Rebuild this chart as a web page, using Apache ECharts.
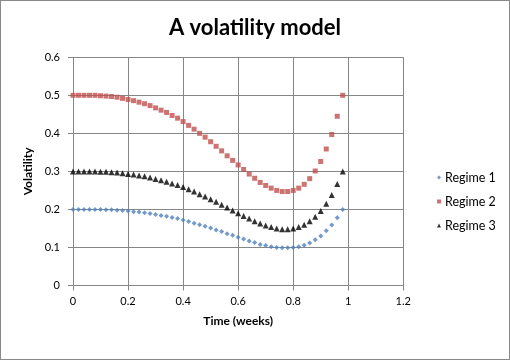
<!DOCTYPE html>
<html>
<head>
<meta charset="utf-8">
<script src="https://cdn.jsdelivr.net/npm/echarts@6/dist/echarts.min.js"></script>
<style>
  html, body { margin: 0; padding: 0; background: #fff; }
  #chart { width: 508px; height: 358px; border: 1px solid #888; }
</style>
</head>
<body>
<div id="chart"></div>
<script>
  // time in weeks
  const times = [0, 0.02, 0.04, 0.06, 0.08, 0.1, 0.12, 0.14, 0.16, 0.18,
    0.2, 0.22, 0.24, 0.26, 0.28, 0.3, 0.32, 0.34, 0.36, 0.38,
    0.4, 0.42, 0.44, 0.46, 0.48, 0.5, 0.52, 0.54, 0.56, 0.58,
    0.6, 0.62, 0.64, 0.66, 0.68, 0.7, 0.72, 0.74, 0.76, 0.78,
    0.8, 0.82, 0.84, 0.86, 0.88, 0.9, 0.92, 0.94, 0.96, 0.98];

  const regime1 = [0.200, 0.200, 0.200, 0.200, 0.200, 0.200, 0.199, 0.199, 0.198, 0.197,
    0.196, 0.194, 0.193, 0.191, 0.189, 0.187, 0.184, 0.182, 0.179, 0.176,
    0.172, 0.168, 0.164, 0.160, 0.156, 0.151, 0.146, 0.142, 0.136, 0.132,
    0.127, 0.122, 0.117, 0.113, 0.108, 0.105, 0.102, 0.100, 0.099, 0.099,
    0.100, 0.102, 0.106, 0.112, 0.120, 0.130, 0.144, 0.159, 0.178, 0.200];

  const regime2 = [0.500, 0.500, 0.500, 0.500, 0.500, 0.499, 0.498, 0.497, 0.495, 0.492,
    0.489, 0.486, 0.482, 0.478, 0.473, 0.467, 0.461, 0.455, 0.447, 0.440,
    0.431, 0.421, 0.411, 0.400, 0.390, 0.378, 0.366, 0.354, 0.341, 0.329,
    0.317, 0.305, 0.293, 0.282, 0.271, 0.263, 0.256, 0.250, 0.247, 0.247,
    0.250, 0.256, 0.266, 0.281, 0.301, 0.326, 0.359, 0.397, 0.445, 0.500];

  const regime3 = [0.300, 0.300, 0.300, 0.300, 0.300, 0.299, 0.299, 0.298, 0.297, 0.295,
    0.293, 0.292, 0.289, 0.287, 0.284, 0.280, 0.277, 0.273, 0.268, 0.264,
    0.259, 0.253, 0.247, 0.240, 0.234, 0.227, 0.220, 0.212, 0.205, 0.197,
    0.190, 0.183, 0.176, 0.169, 0.163, 0.158, 0.154, 0.150, 0.148, 0.148,
    0.150, 0.154, 0.160, 0.169, 0.181, 0.196, 0.215, 0.238, 0.267, 0.300];

  const seriesNames = ['Regime 1', 'Regime 2', 'Regime 3'];

  const font = 'Lato, "Open Sans", sans-serif';
  const gridColor = '#868686';

  function pairs(ys) {
    let out = [];
    for (let i = 0; i < times.length; i++) {
      out.push([times[i], ys[i]]);
    }
    return out;
  }

  const chart = echarts.init(document.getElementById('chart'), null, {renderer: 'canvas'});

  const options = {
    animation: false,
    color: ['#4F81BD', '#C0504D', '#000000'],
    title: {
      text: 'A volatility model',
      left: 'center',
      top: 11,
      textStyle: {fontFamily: font, fontSize: 22, fontWeight: 'bold', color: '#000'}
    },
    legend: {
      orient: 'vertical',
      left: 431,
      top: 165,
      itemGap: 11,
      itemWidth: 4,
      itemHeight: 4,
      data: [
        {name: seriesNames[0], icon: 'diamond'},
        {name: seriesNames[1], icon: 'rect'},
        {name: seriesNames[2], icon: 'triangle'}
      ],
      textStyle: {fontFamily: font, fontSize: 12.5, color: '#000', padding: [0, 0, 0, -1]}
    },
    grid: {
      left: 72,
      right: 105.7,
      top: 56.3,
      bottom: 73.5
    },
    xAxis: {
      type: 'value',
      min: 0,
      max: 1.2,
      interval: 0.2,
      name: 'Time (weeks)',
      nameLocation: 'middle',
      nameGap: 30,
      nameTextStyle: {fontFamily: font, fontSize: 12, fontWeight: 'bold', color: '#000'},
      axisLine: {show: true, lineStyle: {color: gridColor}},
      axisTick: {show: true, length: 5, lineStyle: {color: gridColor}},
      axisLabel: {fontFamily: font, fontSize: 11, color: '#000', margin: 10,
        formatter: v => String(Math.round(v * 10) / 10)},
      splitLine: {show: true, lineStyle: {color: gridColor}}
    },
    yAxis: {
      type: 'value',
      min: 0,
      max: 0.6,
      interval: 0.1,
      name: 'Volatility',
      nameLocation: 'middle',
      nameGap: 37,
      nameTextStyle: {fontFamily: font, fontSize: 12, fontWeight: 'bold', color: '#000'},
      axisLine: {show: true, lineStyle: {color: gridColor}},
      axisTick: {show: true, length: 5, lineStyle: {color: gridColor}},
      axisLabel: {fontFamily: font, fontSize: 11, color: '#000', margin: 13,
        formatter: v => String(Math.round(v * 10) / 10)},
      splitLine: {show: true, lineStyle: {color: gridColor}}
    },
    series: [
      {name: seriesNames[0], type: 'scatter', symbol: 'diamond', symbolSize: 5, data: pairs(regime1)},
      {name: seriesNames[1], type: 'scatter', symbol: 'rect', symbolSize: 5, data: pairs(regime2)},
      {name: seriesNames[2], type: 'scatter', symbol: 'triangle', symbolSize: 6, data: pairs(regime3)}
    ]
  };
  chart.setOption(options, true);
</script>
</body>
</html>
